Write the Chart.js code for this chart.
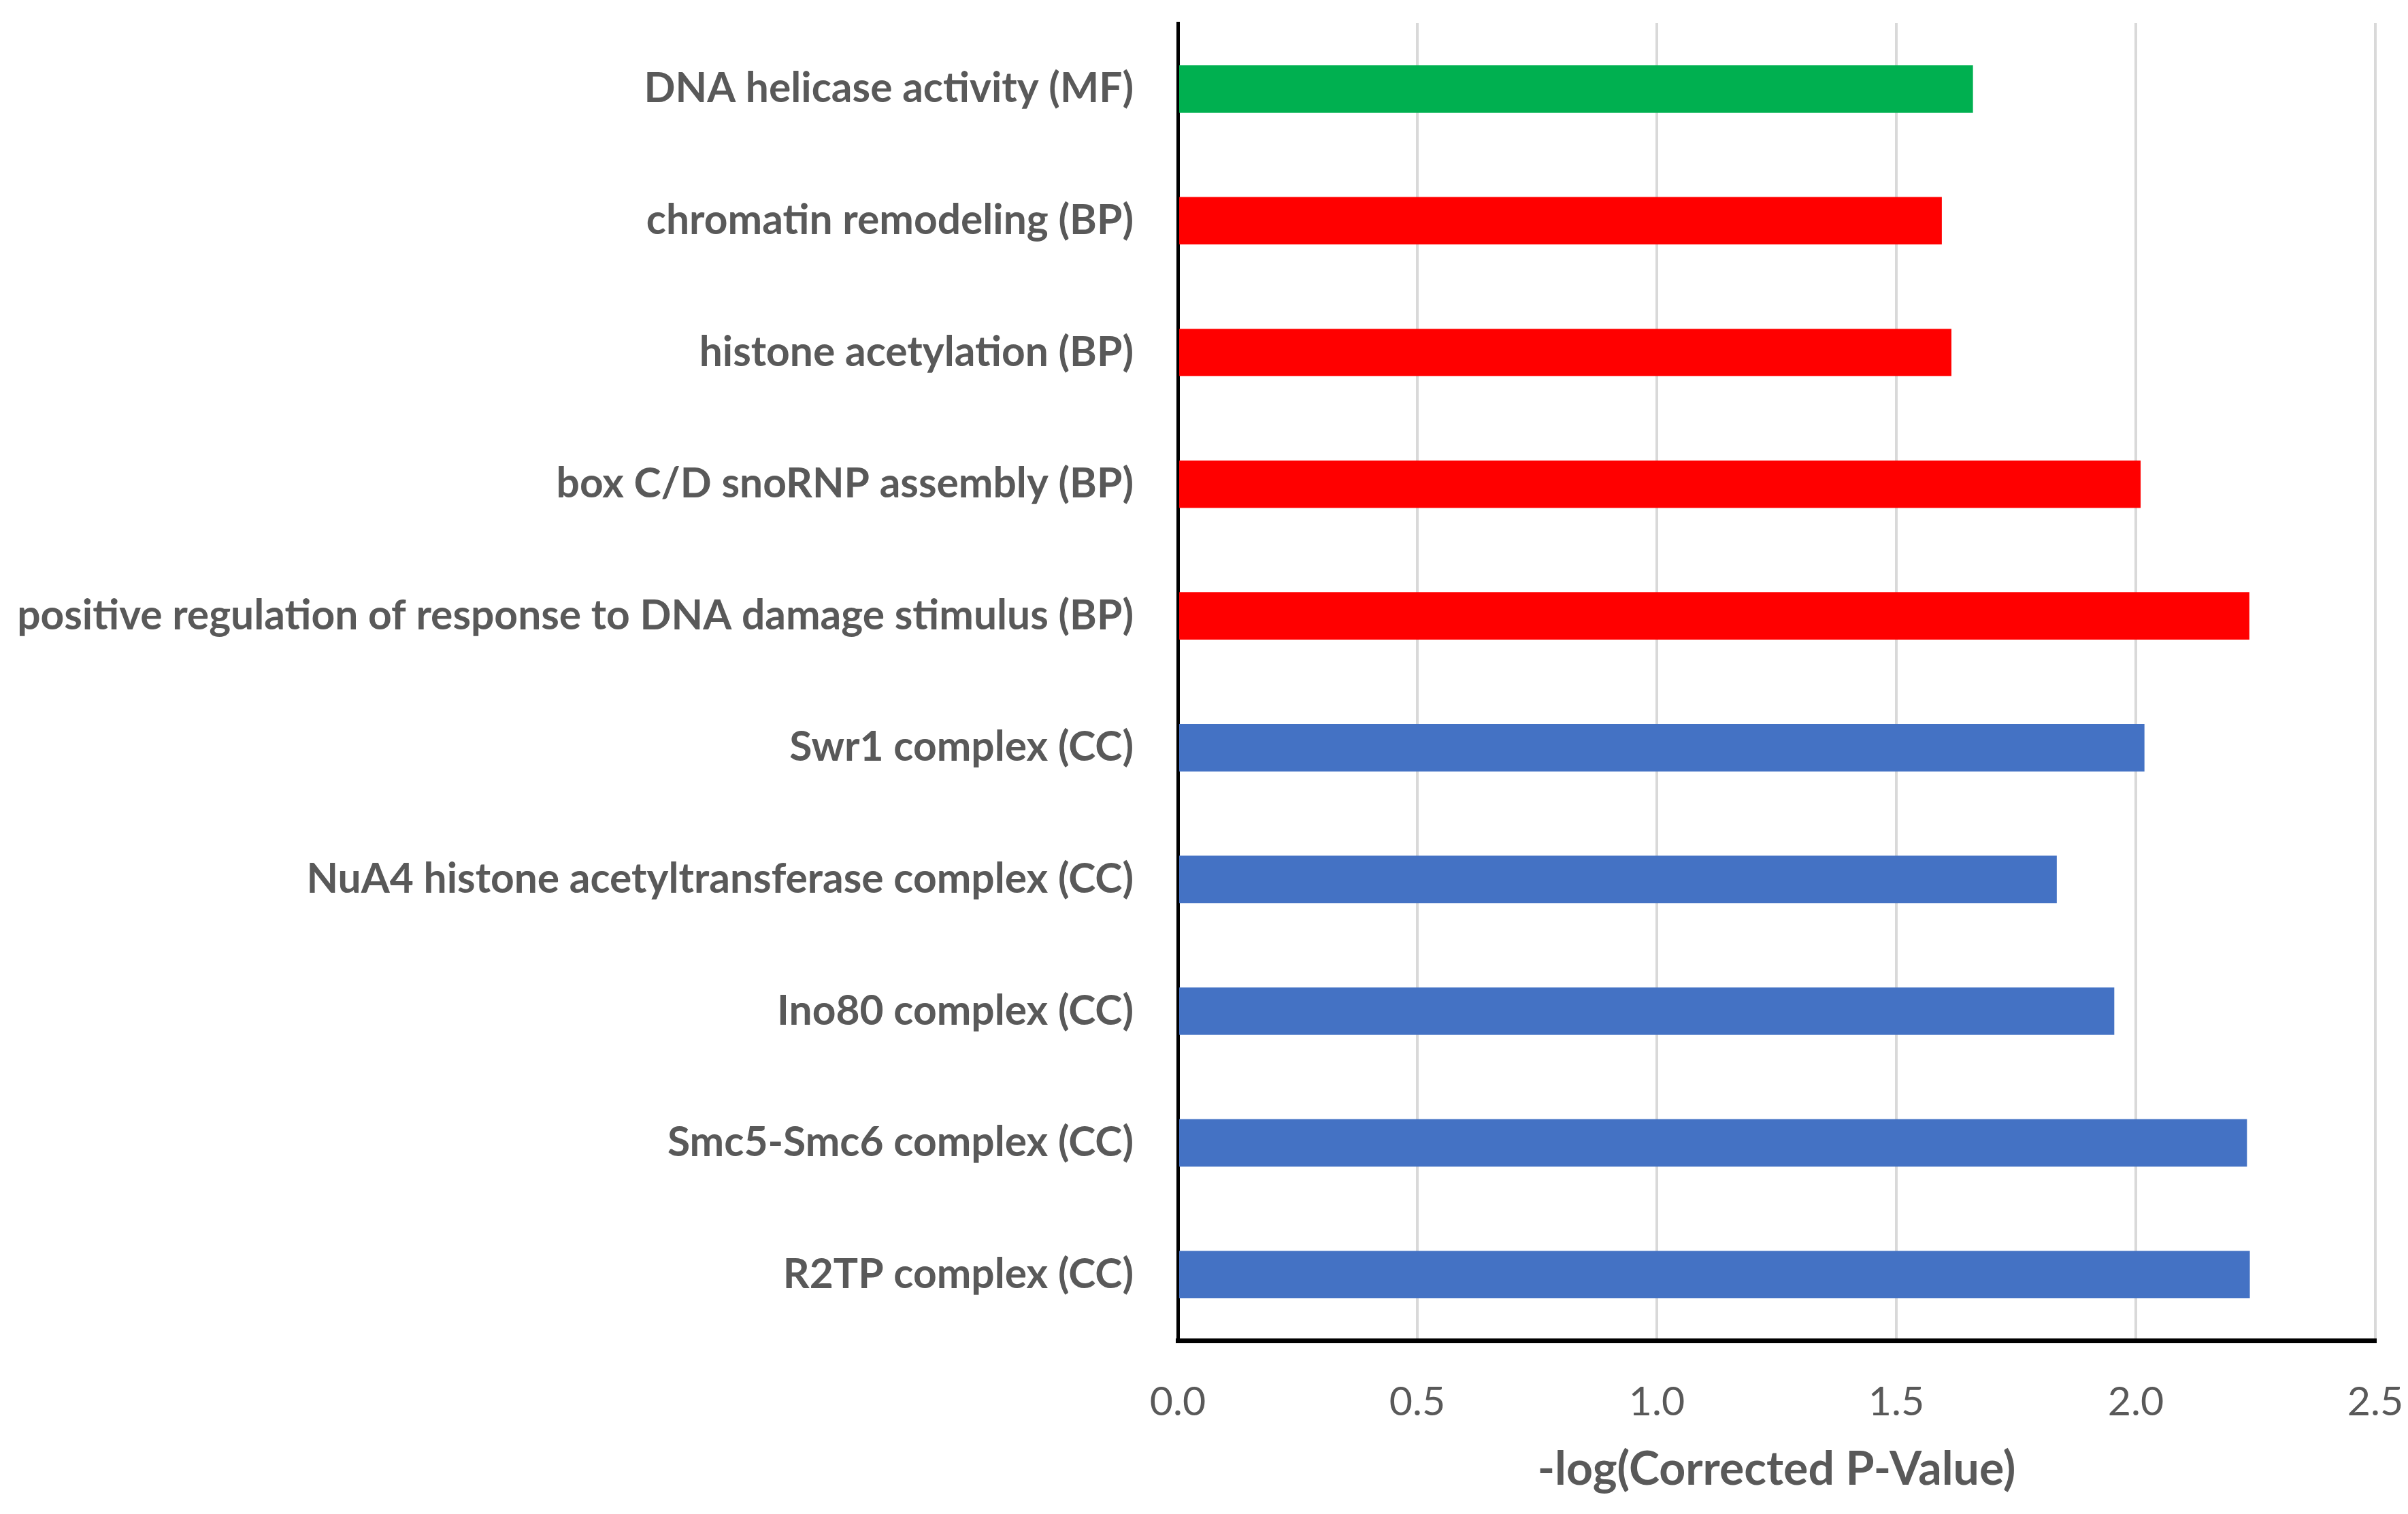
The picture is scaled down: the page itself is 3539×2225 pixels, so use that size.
<!DOCTYPE html>
<html>
<head>
<meta charset="utf-8">
<script src="https://cdn.jsdelivr.net/npm/chart.js@4/dist/chart.umd.min.js"></script>
<style>
  html, body { margin: 0; padding: 0; background: #fff; }
  canvas { display: block; }
</style>
</head>
<body>
<canvas id="myChart" width="3539" height="2225"></canvas>
<script>
// data
var categories = [
    'DNA helicase activity (MF)',
    'chromatin remodeling (BP)',
    'histone acetylation (BP)',
    'box C/D snoRNP assembly (BP)',
    'positive regulation of response to DNA damage stimulus (BP)',
    'Swr1 complex (CC)',
    'NuA4 histone acetyltransferase complex (CC)',
    'Ino80 complex (CC)',
    'Smc5-Smc6 complex (CC)',
    'R2TP complex (CC)'
];
var values = [1.66, 1.595, 1.615, 2.01, 2.237, 2.018, 1.835, 1.955, 2.232, 2.238];
var ontology = ['MF', 'BP', 'BP', 'BP', 'BP', 'CC', 'CC', 'CC', 'CC', 'CC'];
var xTicks = [0, 0.5, 1.0, 1.5, 2.0, 2.5];

var groupColors = { MF: '#00b050', BP: '#ff0000', CC: '#4472c4' };
var textColor = '#595959';
var fontFamily = 'Lato, "Open Sans", sans-serif';

var ctx = document.getElementById('myChart');
var myChart = new Chart(ctx, {
    type: 'bar',
    data: {
        labels: categories,
        datasets: [{
            label: '-log(Corrected P-Value)',
            data: values,
            backgroundColor: ontology.map(function (g) { return groupColors[g]; }),
            borderWidth: 0,
            barPercentage: 1.0,
            categoryPercentage: 0.36
        }]
    },
    options: {
        indexAxis: 'y',
        responsive: false,
        animation: false,
        devicePixelRatio: 1,
        layout: {
            padding: { top: 34, right: 48, bottom: 20, left: 0 }
        },
        plugins: {
            legend: { display: false },
            tooltip: { enabled: false }
        },
        scales: {
            x: {
                min: 0,
                max: 2.5,
                afterBuildTicks: function (scale) {
                    scale.ticks = xTicks.map(function (v) { return { value: v }; });
                },
                afterFit: function (scale) {
                    scale.height = 235;
                    scale.paddingLeft = 0;
                    scale.paddingRight = 0;
                },
                grid: {
                    color: '#d9d9d9',
                    lineWidth: 4,
                    drawTicks: false
                },
                border: { color: '#000', width: 7 },
                ticks: {
                    padding: 56,
                    color: textColor,
                    font: { family: fontFamily, size: 59 },
                    callback: function (v) { return Number(v).toFixed(1); }
                },
                title: {
                    display: true,
                    text: '-log(Corrected P-Value)',
                    color: textColor,
                    font: { family: fontFamily, size: 68, weight: 'bold' },
                    padding: { top: 0, bottom: 4 }
                }
            },
            y: {
                afterFit: function (scale) {
                    scale.width = 1731;
                    scale.paddingTop = 0;
                    scale.paddingBottom = 0;
                },
                grid: { display: false, drawTicks: false },
                border: { color: '#000', width: 5 },
                ticks: {
                    padding: 65,
                    color: textColor,
                    font: { family: fontFamily, size: 60.5, weight: 'bold' }
                }
            }
        }
    }
});
</script>
</body>
</html>
